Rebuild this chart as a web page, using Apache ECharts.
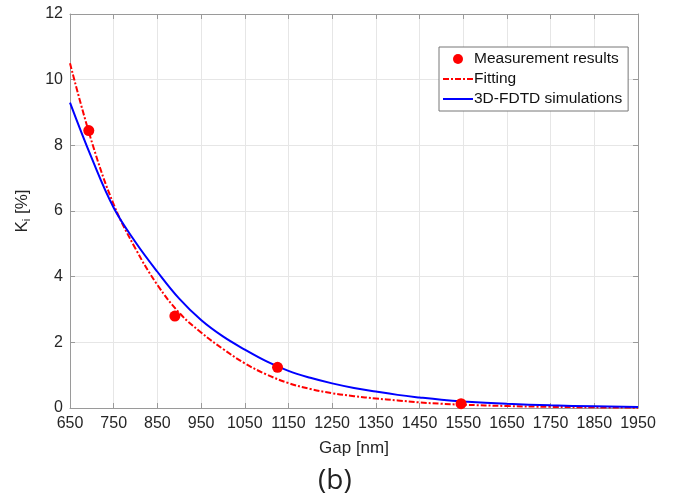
<!DOCTYPE html>
<html>
<head>
<meta charset="utf-8">
<script src="https://cdn.jsdelivr.net/npm/echarts@6/dist/echarts.min.js"></script>
<style>
html,body{margin:0;padding:0;background:#fff;}
#chart{width:682px;height:504px;}
</style>
</head>
<body>
<div id="chart"></div>
<script>
// ---- Data ----
const xTicks = [650,750,850,950,1050,1150,1250,1350,1450,1550,1650,1750,1850,1950];
const yTicks = [0,2,4,6,8,10,12];

const measGap = [693, 890, 1125, 1545];
const measK   = [8.45, 2.80, 1.24, 0.13];

const fitGap = [650,700,750,800,850,900,950,1000,1050,1100,1150,1200,1250,1300,1350,1400,1450,1500,1550,1650,1750,1850,1950];
const fitK   = [10.5,8.1,6.2,4.85,3.75,2.9,2.3,1.8,1.36,1.02,0.76,0.58,0.45,0.36,0.29,0.23,0.17,0.13,0.10,0.06,0.035,0.02,0.01];

const simGap = [650,700,750,800,850,900,950,1000,1050,1100,1150,1200,1250,1300,1350,1400,1450,1500,1550,1650,1750,1850,1950];
const simK   = [9.3,7.6,6.1,5.05,4.15,3.33,2.68,2.18,1.78,1.42,1.13,0.92,0.75,0.61,0.50,0.40,0.32,0.25,0.20,0.13,0.08,0.05,0.03];

const seriesNames = ['Measurement results','Fitting','3D-FDTD simulations'];

// ---- Chart ----
const zip = (a,b) => a.map((v,i) => [v,b[i]]);
const FONT = '"Liberation Sans", Arial, Helvetica, sans-serif';
const axisGray = '#9a9a9a';
const textCol = '#262626';
const gridCol = '#e6e6e6';

const chart = echarts.init(document.getElementById('chart'), null, {renderer:'canvas'});
const xMin = xTicks[0], xMax = xTicks[xTicks.length-1];
const yMin = yTicks[0], yMax = yTicks[yTicks.length-1];
const plain = v => String(v);

chart.setOption({
  animation:false,
  backgroundColor:'#ffffff',
  textStyle:{fontFamily:FONT},
  grid:{left:70, right:44, top:14, bottom:96, containLabel:false},
  legend:{
    orient:'vertical',
    left:439, top:47,
    data:[
      {name:seriesNames[0], icon:'circle'},
      {name:seriesNames[1], itemStyle:{opacity:0}},
      {name:seriesNames[2], itemStyle:{opacity:0}}
    ],
    itemWidth:30, itemHeight:10, itemGap:4,
    padding:[4,6,4,3],
    borderColor:'#777777', borderWidth:1,
    backgroundColor:'#ffffff',
    textStyle:{fontFamily:FONT, fontSize:15.5, color:'#111', padding:[0,0,0,-4]}
  },
  xAxis:[{
    type:'value', min:xMin, max:xMax, interval:100,
    name:'Gap [nm]', nameLocation:'middle', nameGap:32,
    nameTextStyle:{fontFamily:FONT, fontSize:17, color:textCol},
    axisLine:{show:true, onZero:false, lineStyle:{color:axisGray, width:1}},
    axisTick:{show:true, inside:true, length:5, lineStyle:{color:axisGray}},
    axisLabel:{fontFamily:FONT, fontSize:16, color:textCol, margin:8, formatter:plain},
    splitLine:{show:true, lineStyle:{color:gridCol, width:1}}
  },{
    type:'value', min:xMin, max:xMax, interval:100, position:'top',
    axisLine:{show:true, onZero:false, lineStyle:{color:axisGray, width:1}},
    axisTick:{show:true, inside:true, length:5, lineStyle:{color:axisGray}},
    axisLabel:{show:false}, splitLine:{show:false}
  }],
  yAxis:[{
    type:'value', min:yMin, max:yMax, interval:2,
    name:'{k|K}{s|i}{k| [%]}', nameLocation:'middle', nameGap:38, nameRotate:90,
    nameTextStyle:{
      rich:{
        k:{fontFamily:FONT, fontSize:17, color:textCol},
        s:{fontFamily:FONT, fontSize:11, color:textCol, verticalAlign:'bottom', padding:[9,0,0,0]}
      }
    },
    axisLine:{show:true, onZero:false, lineStyle:{color:axisGray, width:1}},
    axisTick:{show:true, inside:true, length:5, lineStyle:{color:axisGray}},
    axisLabel:{fontFamily:FONT, fontSize:16, color:textCol, margin:7, formatter:plain},
    splitLine:{show:true, lineStyle:{color:gridCol, width:1}}
  },{
    type:'value', min:yMin, max:yMax, interval:2, position:'right',
    axisLine:{show:true, onZero:false, lineStyle:{color:axisGray, width:1}},
    axisTick:{show:true, inside:true, length:5, lineStyle:{color:axisGray}},
    axisLabel:{show:false}, splitLine:{show:false}
  }],
  graphic:[{
    type:'text', left:318, top:467,
    style:{text:'(b)', font:'28px "Open Sans", "Noto Sans", sans-serif', fill:'#222'}
  }],
  series:[
    {
      name:seriesNames[0], type:'scatter', data:zip(measGap, measK),
      symbol:'circle', symbolSize:11, z:5,
      itemStyle:{color:'#ff0000', opacity:1}
    },
    {
      name:seriesNames[1], type:'line', data:zip(fitGap, fitK),
      smooth:0.4, symbol:'none', z:3,
      lineStyle:{color:'#ff0000', width:2, type:[6,2,2,2]},
      itemStyle:{color:'#ff0000'}
    },
    {
      name:seriesNames[2], type:'line', data:zip(simGap, simK),
      smooth:0.4, symbol:'none', z:4,
      lineStyle:{color:'#0000ff', width:2},
      itemStyle:{color:'#0000ff'}
    }
  ]
});
</script>
</body>
</html>
